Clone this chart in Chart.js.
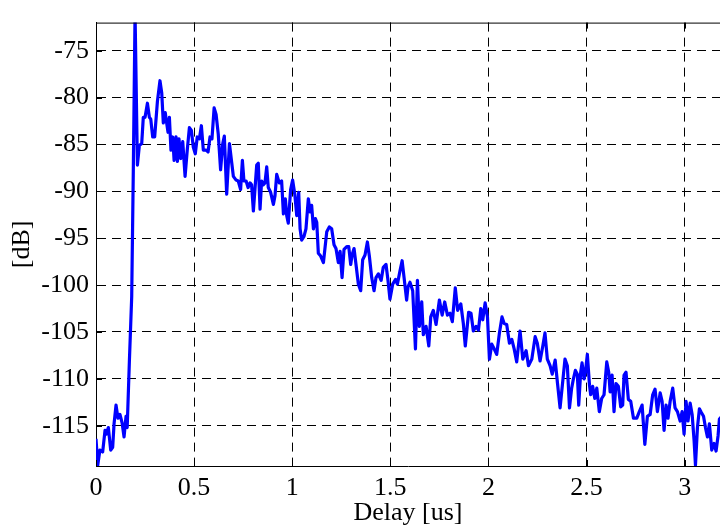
<!DOCTYPE html>
<html>
<head>
<meta charset="utf-8">
<script src="https://cdn.jsdelivr.net/npm/chart.js@4/dist/chart.umd.min.js"></script>
<style>
  body { margin: 0; background: #fff; }
  canvas { display: block; }
</style>
</head>
<body>
<canvas id="pdp" width="720" height="529"></canvas>
<script>
// power delay profile
var delayUs = [
  0.000, 0.009, 0.020, 0.034, 0.046, 0.052, 0.063, 0.075, 0.085, 0.092,
  0.102, 0.112, 0.122, 0.133, 0.143, 0.153, 0.159, 0.170, 0.182, 0.190,
  0.199, 0.211, 0.221, 0.233, 0.241, 0.250, 0.262, 0.272, 0.279, 0.289,
  0.299, 0.313, 0.326, 0.335, 0.343, 0.353, 0.360, 0.367, 0.374, 0.382,
  0.391, 0.398, 0.408, 0.415, 0.423, 0.432, 0.442, 0.454, 0.465, 0.476,
  0.486, 0.496, 0.506, 0.516, 0.527, 0.537, 0.547, 0.561, 0.571, 0.581,
  0.591, 0.602, 0.612, 0.623, 0.635, 0.646, 0.654, 0.666, 0.680, 0.692,
  0.700, 0.714, 0.725, 0.737, 0.746, 0.754, 0.765, 0.775,
  0.785, 0.793, 0.802, 0.810, 0.819, 0.827, 0.836, 0.844, 0.853, 0.861,
  0.870, 0.878, 0.890, 0.904, 0.912, 0.921, 0.934, 0.946, 0.955, 0.965,
  0.972, 0.980, 0.992, 1.002, 1.013, 1.023, 1.033, 1.040, 1.048, 1.060,
  1.070, 1.082, 1.091, 1.099, 1.108, 1.118, 1.125, 1.133, 1.145, 1.159,
  1.176, 1.189, 1.201, 1.213, 1.223, 1.235, 1.244, 1.254, 1.264, 1.278,
  1.288, 1.298, 1.305, 1.315, 1.325, 1.337, 1.349, 1.359, 1.371, 1.383,
  1.393, 1.405, 1.417, 1.427, 1.439, 1.453, 1.464, 1.478, 1.488, 1.498,
  1.512, 1.526, 1.536, 1.549, 1.560, 1.570, 1.583, 1.590,
  1.600, 1.614, 1.628, 1.638, 1.648, 1.660, 1.668, 1.682, 1.696, 1.706,
  1.719, 1.733, 1.750, 1.764, 1.777, 1.791, 1.804, 1.816, 1.831, 1.843,
  1.859, 1.872, 1.882, 1.899, 1.911, 1.923, 1.937, 1.949, 1.961, 1.971,
  1.983, 1.995, 2.005, 2.017, 2.029, 2.042, 2.056, 2.069, 2.080, 2.093,
  2.107, 2.119, 2.131, 2.144, 2.161, 2.175, 2.192, 2.204, 2.221, 2.238,
  2.249, 2.263, 2.277, 2.288, 2.300, 2.314, 2.325, 2.340, 2.352,
  2.365, 2.390, 2.402, 2.413, 2.424, 2.433, 2.443, 2.453, 2.460, 2.470,
  2.477, 2.487, 2.494, 2.504, 2.515, 2.521, 2.531, 2.542, 2.552, 2.565,
  2.577, 2.589, 2.603, 2.613, 2.620, 2.630, 2.640, 2.650, 2.662, 2.674,
  2.684, 2.691, 2.701, 2.713, 2.725, 2.739, 2.756, 2.769, 2.783, 2.797,
  2.810, 2.824, 2.837, 2.849, 2.861, 2.875, 2.885, 2.895, 2.905, 2.915,
  2.926, 2.939, 2.951, 2.963, 2.977, 2.987, 2.997, 3.007, 3.017, 3.028,
  3.038, 3.048, 3.055, 3.065, 3.075, 3.085, 3.096, 3.106, 3.116, 3.126,
  3.138, 3.150, 3.160, 3.170, 3.177, 3.190
];
var powerDb = [
  -116.4, -119.2, -117.6, -117.8, -115.5, -115.9, -115.2, -117.6, -117.3, -114.8,
  -112.8, -114.2, -113.8, -114.7, -116.2, -114.0, -115.2, -108.2, -101.2, -88.0,
  -71.0, -87.2, -85.1, -84.9, -82.1, -82.1, -80.6, -82.1, -82.3, -84.2,
  -84.2, -80.4, -78.2, -79.5, -82.7, -81.6, -82.7, -83.7, -82.1, -85.6,
  -84.2, -86.7, -84.2, -86.8, -84.4, -86.5, -84.7, -88.4, -85.6, -83.2,
  -83.5, -85.3, -86.0, -84.2, -84.4, -83.0, -85.6, -85.6, -85.8, -84.2,
  -84.4, -81.1, -81.8, -83.9, -87.7, -84.9, -84.1, -90.3, -84.9, -87.0,
  -88.4, -88.8, -88.9, -89.8, -86.7, -88.9, -88.9, -89.6,
  -89.1, -89.3, -92.1, -89.8, -87.2, -87.0, -91.9, -88.9, -89.3, -89.1,
  -87.4, -89.6, -90.1, -91.4, -90.5, -88.2, -89.1, -88.9, -92.4, -90.8,
  -92.6, -93.4, -89.8, -88.8, -90.3, -92.6, -90.1, -94.0, -95.2, -94.8,
  -94.0, -90.8, -92.2, -91.5, -94.0, -92.9, -93.3, -96.6, -96.9, -97.6,
  -94.3, -93.8, -94.0, -95.7, -96.1, -97.6, -96.4, -99.2, -96.2, -95.9,
  -95.9, -97.8, -96.8, -96.1, -97.8, -99.9, -100.6, -97.3, -96.8, -95.4,
  -96.9, -99.2, -100.6, -99.2, -98.8, -99.5, -98.1, -97.8, -99.5, -101.5,
  -99.9, -99.4, -99.9, -98.5, -97.4, -99.2, -101.6, -100.2,
  -99.7, -100.6, -106.8, -99.5, -104.4, -101.8, -105.3, -104.4, -106.5, -103.4,
  -102.7, -104.2, -101.6, -103.2, -101.8, -103.2, -103.0, -103.9, -100.3, -102.7,
  -102.0, -104.1, -106.5, -102.9, -103.0, -104.9, -104.4, -104.8, -102.5, -103.7,
  -101.9, -103.4, -107.9, -106.3, -106.8, -107.4, -105.1, -103.4, -104.1, -104.2,
  -106.2, -105.8, -106.8, -108.2, -104.9, -107.9, -107.0, -108.6, -107.9, -105.5,
  -106.2, -108.1, -106.5, -105.1, -107.9, -108.6, -109.5, -108.0, -110.5,
  -113.1, -107.9, -108.6, -113.1, -111.0, -110.0, -109.1, -109.5, -112.8, -109.3,
  -108.3, -110.0, -109.3, -107.4, -110.7, -111.7, -110.8, -112.1, -111.0, -113.5,
  -112.1, -111.7, -108.2, -109.3, -111.4, -109.6, -113.5, -110.5, -110.8, -113.0,
  -112.8, -109.6, -109.3, -112.2, -112.4, -114.2, -114.2, -113.5, -112.8, -117.0,
  -114.0, -113.8, -111.7, -111.1, -113.5, -111.5, -112.4, -115.5, -112.8, -114.2,
  -112.4, -111.0, -113.1, -113.5, -114.5, -113.5, -115.9, -112.4, -114.5, -112.6,
  -113.8, -116.6, -119.2, -115.2, -113.2, -113.6, -114.0, -115.2, -116.2, -114.8,
  -117.6, -116.9, -117.7, -116.1, -114.3, -114.0
];
var xTicks = [0, 0.5, 1, 1.5, 2, 2.5, 3];
var yTicks = [-115, -110, -105, -100, -95, -90, -85, -80, -75];

var points = [];
for (var i = 0; i < delayUs.length; i++) {
  points.push({ x: delayUs[i], y: powerDb[i] });
}

var serif = "'Liberation Serif', 'Times New Roman', serif";

// matlab style box: top edge plus small inward ticks
var boxPlugin = {
  id: 'box',
  afterDraw: function(chart) {
    var ctx = chart.ctx, a = chart.chartArea;
    var xs = chart.scales.x, ys = chart.scales.y;
    ctx.save();
    ctx.strokeStyle = '#000';
    ctx.lineWidth = 1;
    ctx.beginPath();
    ctx.moveTo(a.left, a.top + 0.5);
    ctx.lineTo(a.right, a.top + 0.5);
    xTicks.forEach(function(t) {
      var px = Math.round(xs.getPixelForValue(t)) + 0.5;
      ctx.moveTo(px, a.top);
      ctx.lineTo(px, a.top + 6);
      ctx.moveTo(px, a.bottom);
      ctx.lineTo(px, a.bottom - 6);
    });
    yTicks.forEach(function(t) {
      var py = Math.round(ys.getPixelForValue(t)) + 0.5;
      ctx.moveTo(a.left, py);
      ctx.lineTo(a.left + 6, py);
    });
    ctx.stroke();
    ctx.restore();
  }
};

new Chart(document.getElementById('pdp'), {
  type: 'line',
  data: {
    datasets: [{
      data: points,
      borderColor: '#0000ff',
      borderWidth: 3.2,
      pointRadius: 0,
      tension: 0,
      fill: false,
      clip: 0,
      borderJoinStyle: 'round'
    }]
  },
  plugins: [boxPlugin],
  options: {
    responsive: false,
    animation: false,
    layout: { padding: { top: 13, right: 0, left: 0, bottom: 0 } },
    plugins: { legend: { display: false }, tooltip: { enabled: false } },
    scales: {
      x: {
        type: 'linear',
        min: 0,
        max: 3.18,
        afterFit: function(s) { s.height = 63; },
        afterBuildTicks: function(s) { s.ticks = xTicks.map(function(v) { return { value: v }; }); },
        grid: { color: '#000', lineWidth: 1, drawTicks: false },
        border: { display: true, color: '#000', width: 1, dash: [9, 6] },
        ticks: {
          color: '#000',
          padding: 7,
          maxRotation: 0,
          font: { family: serif, size: 26 },
          callback: function(v) { return String(v); }
        },
        title: {
          display: true,
          text: 'Delay [us]',
          color: '#000',
          font: { family: serif, size: 26 },
          padding: { top: 0, bottom: 0 }
        }
      },
      y: {
        min: -119.3,
        max: -72,
        afterFit: function(s) { s.width = 96; },
        afterBuildTicks: function(s) { s.ticks = yTicks.map(function(v) { return { value: v }; }); },
        grid: { color: '#000', lineWidth: 1, drawTicks: false },
        border: { display: true, color: '#000', width: 1, dash: [9, 6] },
        ticks: {
          color: '#000',
          padding: 7,
          font: { family: serif, size: 26 },
          callback: function(v) { return String(v); }
        },
        title: {
          display: true,
          text: '[dB]',
          color: '#000',
          font: { family: serif, size: 26 },
          padding: { top: 7, bottom: 0 }
        }
      }
    }
  }
});
</script>
</body>
</html>
